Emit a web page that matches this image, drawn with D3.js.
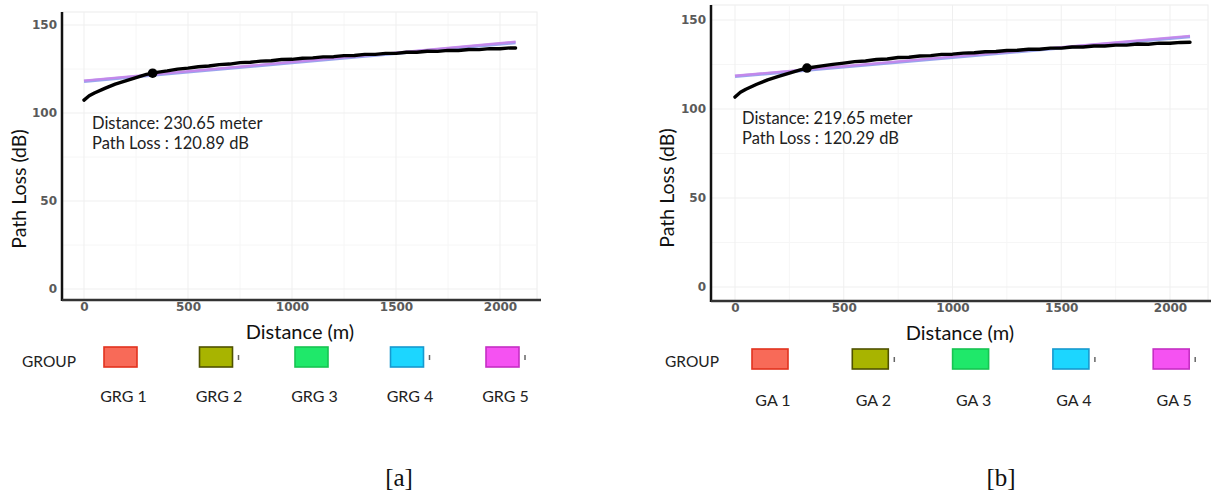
<!DOCTYPE html>
<html>
<head>
<meta charset="utf-8">
<script src="https://d3js.org/d3.v7.min.js"></script>
<style>
  body { margin: 0; background: #fff; }
  text { font-family: Lato, "Open Sans", sans-serif; }
</style>
</head>
<body>
<script>
// ---- data ----
var xTicks = [0, 500, 1000, 1500, 2000];
var xMinor = [250, 750, 1250, 1750];
var yTicks = [0, 50, 100, 150];
var yMinor = [25, 75, 125];

// panel [a]
var distA = [0, 25, 50, 100, 150, 200, 250, 300, 330, 350, 400, 450, 500, 550, 600, 650, 700, 750, 800, 850,
             900, 950, 1000, 1050, 1100, 1150, 1200, 1250, 1300, 1350, 1400, 1450, 1500, 1550, 1600, 1650,
             1700, 1750, 1800, 1850, 1900, 1950, 2000, 2050, 2075];
var lossA = [107.3, 109.8, 111.4, 114.0, 116.4, 118.2, 120.1, 121.9, 122.6, 123.1, 123.9, 124.9, 125.5, 126.3,
             126.7, 127.5, 127.8, 128.6, 128.8, 129.5, 129.7, 130.4, 130.5, 131.1, 131.3, 131.9, 132.0, 132.6,
             132.7, 133.3, 133.3, 133.9, 133.9, 134.5, 134.5, 135.1, 135.0, 135.6, 135.5, 136.1, 136.0, 136.6,
             136.5, 137.0, 136.9];
var fitDistA = [0, 500, 1000, 1500, 2075];
var fitBlueA = [118.0, 123.3, 128.6, 133.9, 140.0];
var fitVioletA = [118.4, 123.7, 129.0, 134.3, 140.5];
var markA = [330, 122.6];
var noteA = ['Distance: 230.65 meter', 'Path Loss : 120.89 dB'];
var groupsA = ['GRG 1', 'GRG 2', 'GRG 3', 'GRG 4', 'GRG 5'];

// panel [b]
var distB = [0, 25, 50, 100, 150, 200, 250, 300, 331, 350, 400, 450, 500, 550, 600, 650, 700, 750, 800, 850,
             900, 950, 1000, 1050, 1100, 1150, 1200, 1250, 1300, 1350, 1400, 1450, 1500, 1550, 1600, 1650,
             1700, 1750, 1800, 1850, 1900, 1950, 2000, 2050, 2092];
var lossB = [106.7, 109.4, 111.1, 113.9, 116.4, 118.3, 120.2, 122.0, 123.0, 123.3, 124.2, 125.1, 125.8, 126.6,
             127.0, 127.8, 128.1, 128.9, 129.1, 129.8, 130.0, 130.7, 130.8, 131.4, 131.6, 132.2, 132.3, 132.9,
             133.0, 133.6, 133.6, 134.2, 134.2, 134.8, 134.8, 135.4, 135.4, 135.9, 135.9, 136.5, 136.4, 137.0,
             136.9, 137.4, 137.5];
var fitDistB = [0, 500, 1000, 1500, 2092];
var fitBlueB = [118.3, 123.6, 129.0, 134.3, 140.6];
var fitVioletB = [118.7, 124.0, 129.4, 134.7, 141.1];
var markB = [331, 123.0];
var noteB = ['Distance: 219.65 meter', 'Path Loss : 120.29 dB'];
var groupsB = ['GA 1', 'GA 2', 'GA 3', 'GA 4', 'GA 5'];

var groupFill = ['#f86a58', '#a8b400', '#1fe86a', '#1cd6ff', '#f552f2'];
var groupEdge = ['#e2321f', '#4f5200', '#17c452', '#1799cf', '#c52fc4'];
var groupTick = [false, true, false, true, true];

var svg = d3.select('body').append('svg')
  .attr('width', 1211)
  .attr('height', 493);

function drawPanel(p) {
  var g = svg.append('g');
  var x = d3.scaleLinear().domain([0, 2000]).range([p.x0, p.x2000]);
  var y = d3.scaleLinear().domain([0, 150]).range([p.y0, p.y150]);

  // panel background grid
  g.append('rect')
    .attr('x', p.left).attr('y', p.top)
    .attr('width', p.right - p.left).attr('height', p.bottom - p.top)
    .attr('fill', 'none').attr('stroke', '#ececec');

  g.selectAll('.gxm').data(xMinor).enter().append('line')
    .attr('x1', x).attr('x2', x).attr('y1', p.top).attr('y2', p.bottom)
    .attr('stroke', '#f6f6f6');
  g.selectAll('.gym').data(yMinor).enter().append('line')
    .attr('y1', y).attr('y2', y).attr('x1', p.left).attr('x2', p.right)
    .attr('stroke', '#f6f6f6');
  g.selectAll('.gx').data(xTicks).enter().append('line')
    .attr('x1', x).attr('x2', x).attr('y1', p.top).attr('y2', p.bottom)
    .attr('stroke', '#efefef');
  g.selectAll('.gy').data(yTicks).enter().append('line')
    .attr('y1', y).attr('y2', y).attr('x1', p.left).attr('x2', p.right)
    .attr('stroke', '#efefef');

  // axes
  var ax = g.append('g').attr('transform', 'translate(0,' + p.bottom + ')')
    .call(d3.axisBottom(x).tickValues(xTicks).tickFormat(d3.format('d')).tickSize(0).tickPadding(2));
  var ay = g.append('g').attr('transform', 'translate(' + p.left + ',0)')
    .call(d3.axisLeft(y).tickValues(yTicks).tickFormat(d3.format('d')).tickSize(0).tickPadding(5));
  [ax, ay].forEach(function (a) {
    a.select('.domain').remove();
    a.selectAll('text')
      .style('font-family', '"DejaVu Sans", Verdana, sans-serif')
      .style('font-size', '12px')
      .style('font-weight', 'bold')
      .attr('fill', '#5a5a5a');
  });

  g.append('line')
    .attr('x1', p.left).attr('x2', p.left).attr('y1', p.top).attr('y2', p.bottom + 1)
    .attr('stroke', '#111').attr('stroke-width', 2.5);
  g.append('line')
    .attr('x1', p.left).attr('x2', p.right + 4).attr('y1', p.bottom).attr('y2', p.bottom)
    .attr('stroke', '#333').attr('stroke-width', 2.5);

  // fitted lines
  var line = d3.line().x(function (d) { return x(d[0]); }).y(function (d) { return y(d[1]); });
  g.append('path')
    .datum(d3.zip(p.fitDist, p.fitBlue))
    .attr('d', line).attr('fill', 'none')
    .attr('stroke', '#8795ea').attr('stroke-width', 3.2).attr('opacity', 0.85);
  g.append('path')
    .datum(d3.zip(p.fitDist, p.fitViolet))
    .attr('d', line).attr('fill', 'none')
    .attr('stroke', '#c983ea').attr('stroke-width', 2.4).attr('opacity', 0.85);

  // measured curve
  g.append('path')
    .datum(d3.zip(p.dist, p.loss))
    .attr('d', line).attr('fill', 'none')
    .attr('stroke', '#000').attr('stroke-width', 3.4)
    .attr('stroke-linejoin', 'round').attr('stroke-linecap', 'round');

  g.append('circle')
    .attr('cx', x(p.mark[0])).attr('cy', y(p.mark[1])).attr('r', 4.8)
    .attr('fill', '#000');

  // annotation
  g.selectAll('.note').data(p.note).enter().append('text')
    .attr('x', p.noteX)
    .attr('y', function (d, i) { return p.noteY + i * 20.5; })
    .attr('dy', '0.35em')
    .style('font-size', '16.5px')
    .attr('fill', '#222')
    .text(function (d) { return d; });

  // axis titles
  g.append('text')
    .attr('transform', 'translate(' + p.yTitleX + ',' + p.yTitleY + ') rotate(-90)')
    .attr('text-anchor', 'middle').attr('dy', '0.35em')
    .style('font-size', '19.5px').attr('fill', '#111')
    .text('Path Loss (dB)');
  g.append('text')
    .attr('x', p.xTitleX).attr('y', p.xTitleY)
    .attr('text-anchor', 'middle').attr('dy', '0.35em')
    .style('font-size', '20px').attr('fill', '#111')
    .text('Distance (m)');

  // legend
  g.append('text')
    .attr('x', p.legX).attr('y', p.legY)
    .attr('dy', '0.35em')
    .style('font-size', '15.5px').attr('fill', '#222')
    .text('GROUP');
  var items = g.selectAll('.leg').data(p.groups).enter().append('g')
    .attr('transform', function (d, i) { return 'translate(' + (p.boxX + i * p.boxStep) + ',0)'; });
  items.append('rect')
    .attr('x', 0).attr('y', p.boxY).attr('width', p.boxW).attr('height', 20)
    .attr('fill', function (d, i) { return groupFill[i]; })
    .attr('stroke', function (d, i) { return groupEdge[i]; })
    .attr('stroke-width', 1.6);
  items.filter(function (d, i) { return groupTick[i]; }).append('line')
    .attr('x1', p.boxW + 6).attr('x2', p.boxW + 6)
    .attr('y1', p.boxY + 8).attr('y2', p.boxY + 13)
    .attr('stroke', '#666').attr('stroke-width', 1.5);
  items.append('text')
    .attr('x', p.boxW / 2 + 3).attr('y', p.labY)
    .attr('text-anchor', 'middle').attr('dy', '0.35em')
    .style('font-size', '16px').attr('fill', '#222')
    .text(function (d) { return d; });

  // caption
  g.append('text')
    .attr('x', p.capX).attr('y', p.capY)
    .attr('text-anchor', 'middle').attr('dy', '0.35em')
    .style('font-family', '"Liberation Serif", "DejaVu Serif", serif')
    .style('font-size', '25px').attr('fill', '#111')
    .text(p.caption);
}

drawPanel({
  left: 62, top: 12, right: 537, bottom: 300,
  x0: 84, x2000: 500, y0: 289, y150: 25,
  dist: distA, loss: lossA, fitDist: fitDistA, fitBlue: fitBlueA, fitViolet: fitVioletA,
  mark: markA, note: noteA, noteX: 92, noteY: 123,
  yTitleX: 19, yTitleY: 189, xTitleX: 300, xTitleY: 332,
  groups: groupsA, legX: 22, legY: 362, boxX: 104, boxStep: 95.5, boxW: 33, boxY: 347, labY: 396,
  caption: '[a]', capX: 399, capY: 477
});

drawPanel({
  left: 711, top: 5, right: 1208, bottom: 301,
  x0: 735, x2000: 1170, y0: 287, y150: 20,
  dist: distB, loss: lossB, fitDist: fitDistB, fitBlue: fitBlueB, fitViolet: fitVioletB,
  mark: markB, note: noteB, noteX: 742, noteY: 118,
  yTitleX: 667, yTitleY: 188, xTitleX: 960, xTitleY: 333,
  groups: groupsB, legX: 665, legY: 362, boxX: 752, boxStep: 100.3, boxW: 36, boxY: 349, labY: 400,
  caption: '[b]', capX: 1001, capY: 477
});
</script>
</body>
</html>
